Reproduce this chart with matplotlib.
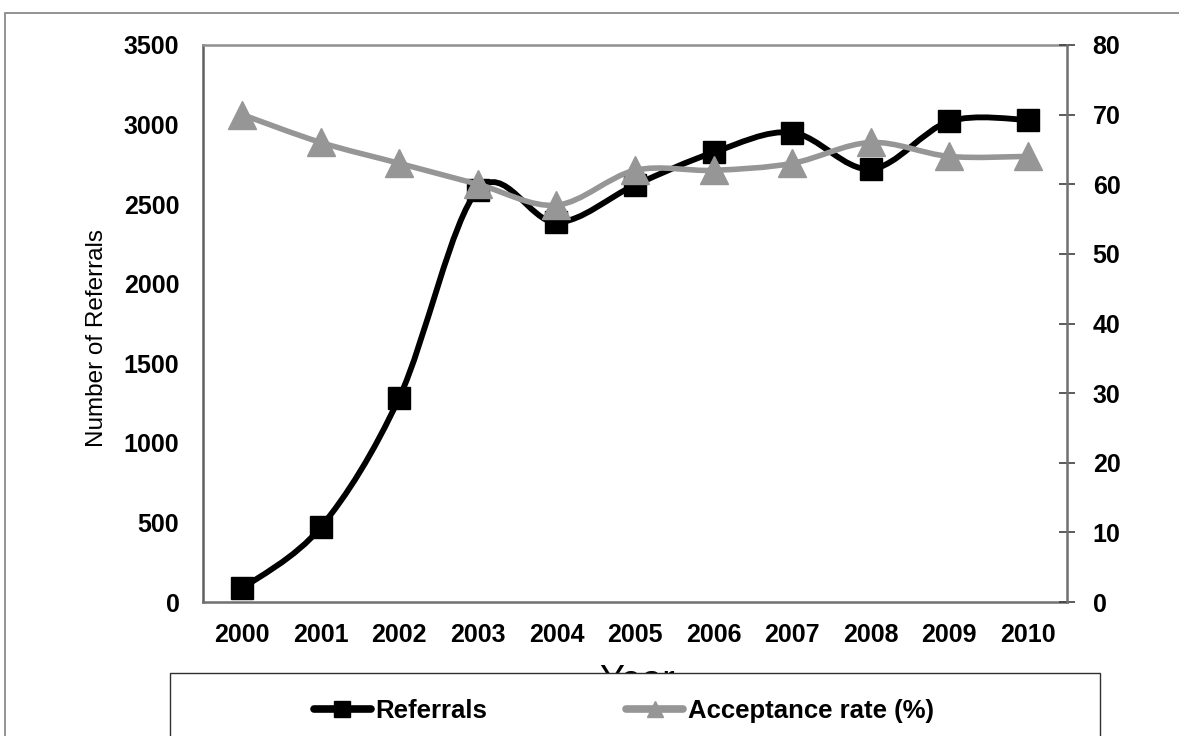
"""Referrals and acceptance rate, 2000-2010"""

import numpy as np
import matplotlib
matplotlib.use("Agg")
import matplotlib.pyplot as plt
from matplotlib.path import Path
from matplotlib.patches import PathPatch, Rectangle
from matplotlib.lines import Line2D

plt.rcParams["font.family"] = ["Liberation Sans", "DejaVu Sans"]

years = ["2000", "2001", "2002", "2003", "2004", "2005",
         "2006", "2007", "2008", "2009", "2010"]
referrals = [85, 470, 1285, 2590, 2385, 2620, 2825, 2950, 2720, 3020, 3030]
acceptance = [70, 66, 63, 60, 57, 62, 62, 63, 66, 64, 64]

BLACK = "#000000"
GREY = "#969696"
W, H = 1179, 736


def smooth_path(xs, ys):
    # excel style smoothed line: cubic bezier through every point
    pts = np.column_stack([xs, ys]).astype(float)
    pad = np.vstack([pts[0], pts, pts[-1]])
    verts = [pts[0]]
    codes = [Path.MOVETO]
    for i in range(len(pts) - 1):
        p0, p1, p2, p3 = pad[i], pad[i + 1], pad[i + 2], pad[i + 3]
        verts += [p1 + (p2 - p0) / 6, p2 - (p3 - p1) / 6, p2]
        codes += [Path.CURVE4] * 3
    return Path(verts, codes)


fig = plt.figure(figsize=(W / 100, H / 100), dpi=100)
ax = fig.add_axes([203 / W, 1 - 602 / H, (1067 - 203) / W, (602 - 45) / H])
ax2 = ax.twinx()

x = np.arange(len(years))

ax.add_patch(PathPatch(smooth_path(x, referrals), fill=False,
                       edgecolor=BLACK, lw=4.2, capstyle="round"))
ax.plot(x, referrals, "s", color=BLACK, ms=16, ls="none")

ax2.add_patch(PathPatch(smooth_path(x, acceptance), fill=False,
                        edgecolor=GREY, lw=4.0, capstyle="round"))
ax2.plot(x, acceptance, "^", color=GREY, ms=20, ls="none")

ax.set_xlim(-0.5, len(years) - 0.5)
ax.set_ylim(0, 3500)
ax2.set_ylim(0, 80)
ax.set_xticks(x)
ax.set_xticklabels(years)
ax.set_yticks(range(0, 3501, 500))
ax2.set_yticks(range(0, 81, 10))

for lab in ax.get_xticklabels() + ax.get_yticklabels() + ax2.get_yticklabels():
    lab.set_fontsize(18)
    lab.set_fontweight("bold")

ax.tick_params(axis="both", length=0)
ax.tick_params(axis="y", pad=17)
ax.tick_params(axis="x", pad=15)
ax2.tick_params(axis="y", direction="inout", length=11, width=1.2,
                color="#404040", pad=13)

ax.spines["left"].set_color("#606060")
ax.spines["bottom"].set_color("#707070")
ax.spines["top"].set_color("#909090")
for s in ["left", "bottom", "top"]:
    ax.spines[s].set_linewidth(1.8)
ax.spines["right"].set_visible(False)
for s in ["left", "bottom", "top"]:
    ax2.spines[s].set_visible(False)
ax2.spines["right"].set_color("#707070")
ax2.spines["right"].set_linewidth(1.8)

# y label placed a little below the axes centre, like the original
fig.text(97 / W, 1 - 338 / H, "Number of Referrals", fontsize=17.5,
         rotation=90, ha="center", va="center")

# x label sits mostly behind the legend box, as in the original
fig.text(637 / W, 1 - 664 / H, "Year", fontsize=27, ha="center", va="top",
         zorder=1)

# outer chart border
fig.add_artist(Rectangle((5 / W, -0.2), 1.2, 1 - 13 / H + 0.2,
                         transform=fig.transFigure, fill=False,
                         edgecolor="#808080", lw=1.2, zorder=0))
# legend box
fig.add_artist(Rectangle((170 / W, -0.2), 930 / W, (736 - 673) / H + 0.2,
                         transform=fig.transFigure, facecolor="white",
                         edgecolor="#303030", lw=1.0, zorder=3))

handles = [
    Line2D([], [], color=BLACK, lw=5.5, marker="s", ms=12,
           solid_capstyle="round"),
    Line2D([], [], color=GREY, lw=5.5, marker="^", ms=12,
           solid_capstyle="round"),
]
leg = fig.legend(handles, ["Referrals", "Acceptance rate (%)"],
                 loc="center", bbox_to_anchor=(624 / W, 1 - 711 / H),
                 ncol=2, frameon=False, handlelength=2.2, handletextpad=0.2,
                 columnspacing=5.4, prop={"size": 18.5, "weight": "bold"})
leg.set_zorder(4)

fig.savefig("out.png", dpi=100)
